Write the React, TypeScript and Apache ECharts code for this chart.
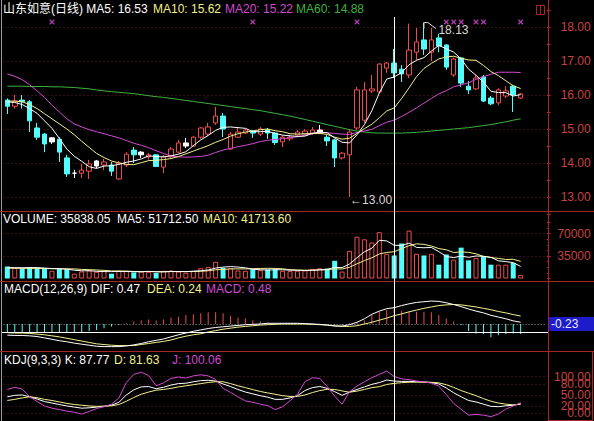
import React, { useEffect, useRef } from 'react';
import * as echarts from 'echarts';

// ---------- data ----------
const opens = [15.85, 15.67, 15.85, 15.80, 15.03, 14.85, 14.62, 14.70, 14.15, 13.70,
  13.70, 13.76, 13.91, 13.94, 13.94, 13.53, 13.94, 14.38, 14.24, 14.18,
  14.24, 13.88, 14.18, 14.32, 14.50, 14.50, 14.76, 14.85, 15.18, 15.38,
  14.41, 14.76, 14.88, 14.94, 14.85, 14.97, 14.88, 14.62, 14.71, 14.82,
  14.85, 14.88, 14.88, 14.76, 14.68, 14.15, 14.24, 15.03, 15.26, 16.12,
  16.09, 16.79, 16.94, 16.76, 16.59, 17.26, 17.62, 17.26, 17.68, 17.47,
  16.59, 17.09, 16.26, 16.18, 16.53, 15.91, 15.77, 15.97, 16.26, 15.91];
const closes = [15.67, 15.82, 15.80, 15.24, 14.76, 14.56, 14.74, 14.32, 13.68, 13.70,
  13.79, 13.97, 14.06, 14.03, 13.76, 14.00, 14.26, 14.24, 14.32, 14.24,
  13.90, 14.18, 14.41, 14.59, 14.59, 14.76, 15.03, 15.06, 15.38, 15.00,
  14.85, 14.91, 14.97, 14.88, 15.00, 14.88, 14.60, 14.76, 14.76, 14.91,
  14.94, 14.97, 14.97, 14.65, 14.15, 14.29, 14.91, 16.15, 16.15, 16.18,
  16.91, 16.94, 16.65, 16.62, 17.32, 17.56, 17.35, 17.62, 17.44, 16.82,
  17.06, 16.35, 16.15, 16.50, 15.82, 15.74, 16.15, 16.12, 16.00, 16.03];
const lows = [15.44, 15.60, 15.60, 14.91, 14.68, 14.32, 14.56, 14.03, 13.59, 13.56,
  13.56, 13.53, 13.85, 13.79, 13.62, 13.50, 13.88, 14.00, 14.15, 14.10,
  13.88, 13.70, 14.15, 14.29, 14.44, 14.47, 14.71, 14.79, 15.12, 14.76,
  14.38, 14.74, 14.85, 14.74, 14.79, 14.71, 14.53, 14.47, 14.65, 14.76,
  14.82, 14.82, 14.85, 14.50, 13.88, 14.10, 13.00, 14.97, 15.18, 16.06,
  16.06, 16.65, 16.50, 16.38, 16.50, 17.03, 17.18, 17.00, 17.26, 16.74,
  16.53, 16.24, 16.03, 16.15, 15.79, 15.70, 15.70, 15.91, 15.50, 15.88];
const highs = [15.90, 16.00, 16.00, 15.85, 15.18, 14.88, 14.76, 14.76, 14.24, 13.80,
  13.97, 14.09, 14.09, 14.12, 14.03, 14.06, 14.32, 14.47, 14.35, 14.30,
  14.26, 14.24, 14.47, 14.68, 14.74, 14.79, 15.06, 15.18, 15.65, 15.47,
  14.91, 15.06, 15.00, 14.97, 15.06, 15.03, 14.91, 14.82, 14.82, 14.97,
  15.00, 15.06, 15.12, 14.82, 14.71, 14.32, 15.00, 16.24, 16.38, 16.59,
  16.94, 16.97, 17.35, 16.88, 18.10, 17.97, 18.13, 17.97, 17.80, 17.50,
  17.10, 17.12, 16.41, 16.59, 16.59, 15.97, 16.20, 16.26, 16.30, 16.06];
const whiteCandles = [6, 9, 12, 18, 24, 42];

const ma5 = [15.80, 15.78, 15.72, 15.60, 15.46, 15.24, 15.02, 14.72, 14.41, 14.20,
  14.05, 13.89, 13.84, 13.91, 13.92, 13.96, 14.02, 14.06, 14.12, 14.21,
  14.19, 14.18, 14.21, 14.26, 14.33, 14.51, 14.68, 14.81, 14.96, 15.05,
  15.06, 15.04, 15.02, 14.92, 14.92, 14.93, 14.87, 14.82, 14.80, 14.78,
  14.79, 14.87, 14.91, 14.89, 14.74, 14.61, 14.59, 14.83, 15.13, 15.54,
  16.06, 16.47, 16.53, 16.66, 16.89, 17.02, 17.10, 17.29, 17.46, 17.36,
  17.26, 17.06, 16.76, 16.58, 16.38, 16.11, 16.07, 16.07, 15.97, 16.01];
const ma10 = [15.82, 15.82, 15.80, 15.72, 15.60, 15.45, 15.30, 15.15, 15.00, 14.83,
  14.64, 14.46, 14.28, 14.16, 14.06, 14.00, 13.96, 13.95, 14.01, 14.07,
  14.08, 14.10, 14.13, 14.19, 14.27, 14.35, 14.43, 14.51, 14.61, 14.69,
  14.79, 14.86, 14.91, 14.94, 14.98, 15.00, 14.95, 14.92, 14.86, 14.85,
  14.86, 14.87, 14.87, 14.84, 14.76, 14.70, 14.73, 14.87, 15.01, 15.14,
  15.33, 15.53, 15.62, 15.90, 16.21, 16.54, 16.78, 16.93, 17.06, 17.12,
  17.14, 17.08, 17.03, 17.02, 16.87, 16.69, 16.57, 16.42, 16.27, 16.19];
const ma20 = [16.62, 16.55, 16.45, 16.30, 16.12, 15.93, 15.70, 15.50, 15.30, 15.15,
  15.06, 14.98, 14.92, 14.86, 14.80, 14.74, 14.66, 14.58, 14.52, 14.45,
  14.36, 14.28, 14.21, 14.18, 14.17, 14.18, 14.19, 14.23, 14.31, 14.38,
  14.43, 14.48, 14.52, 14.57, 14.63, 14.67, 14.69, 14.72, 14.74, 14.77,
  14.82, 14.86, 14.89, 14.89, 14.87, 14.85, 14.84, 14.90, 14.94, 14.99,
  15.10, 15.20, 15.26, 15.37, 15.49, 15.62, 15.76, 15.90, 16.03, 16.13,
  16.24, 16.30, 16.36, 16.46, 16.54, 16.61, 16.67, 16.67, 16.67, 16.66];
const ma60 = [16.26, 16.26, 16.26, 16.25, 16.25, 16.25, 16.24, 16.24, 16.23, 16.22,
  16.20, 16.18, 16.15, 16.12, 16.10, 16.08, 16.06, 16.04, 16.01, 15.98,
  15.95, 15.93, 15.90, 15.87, 15.84, 15.81, 15.78, 15.75, 15.72, 15.69,
  15.66, 15.63, 15.60, 15.57, 15.54, 15.50, 15.46, 15.42, 15.38, 15.33,
  15.28, 15.23, 15.18, 15.13, 15.08, 15.03, 14.98, 14.94, 14.91, 14.89,
  14.88, 14.88, 14.88, 14.88, 14.89, 14.90, 14.92, 14.94, 14.96, 14.98,
  15.00, 15.02, 15.04, 15.07, 15.10, 15.13, 15.17, 15.21, 15.26, 15.30];

const volumes = [18800, 16500, 16000, 17500, 16000, 15500, 12000, 15000, 14500, 7500,
  11000, 12500, 10500, 12000, 7500, 12500, 12000, 9500, 11000, 10500,
  8500, 12000, 12500, 11000, 9000, 12000, 16000, 18000, 26000, 16500,
  16000, 12500, 12000, 14500, 13000, 14000, 14500, 12000, 11500, 12000,
  12500, 15000, 16000, 15500, 27500, 10800, 43000, 65000, 61000, 56000,
  72000, 38500, 35838.05, 54400, 74500, 38500, 35800, 38500, 21500, 37400,
  29400, 48000, 28300, 32100, 34700, 21500, 21500, 21500, 24200, 5600];
const volMa5 = [17000, 16800, 16700, 16900, 16960, 16300, 15400, 15200, 14600, 12900,
  12000, 12100, 11200, 10700, 10700, 11000, 10900, 10700, 10500, 11100,
  10300, 10300, 10900, 10900, 10600, 11300, 12100, 13200, 16200, 17700,
  18500, 17800, 16600, 14300, 13600, 13200, 13600, 13600, 13000, 12800,
  12500, 12600, 13400, 14200, 17300, 16960, 22560, 32360, 41460, 47160,
  59400, 58500, 51712.5, 51348, 55048, 48348, 47808, 48340, 41760, 34340,
  32520, 34960, 32920, 35040, 34500, 32920, 27620, 26260, 24680, 18860];
const volMa10 = [16000, 16000, 15900, 15800, 15700, 15500, 15300, 15200, 15000, 14930,
  14150, 13750, 13200, 12650, 11800, 11500, 11500, 10950, 10600, 10900,
  10650, 10600, 10800, 10700, 10850, 10800, 11200, 12050, 13550, 14150,
  14900, 14950, 14900, 15250, 15650, 15850, 15700, 15100, 13650, 13200,
  12850, 13100, 13500, 13600, 15050, 14730, 17580, 22880, 27830, 32230,
  38180, 40530, 41713.6, 46404, 51104, 53874, 53154, 50504, 46554, 44694,
  40434, 41384, 40630, 38400, 34420, 32720, 31290, 29590, 29860, 26680];

const dif = [-0.32, -0.33, -0.33, -0.34, -0.36, -0.40, -0.44, -0.48, -0.51, -0.55,
  -0.58, -0.61, -0.64, -0.65, -0.65, -0.65, -0.63, -0.60, -0.56, -0.51,
  -0.47, -0.43, -0.37, -0.31, -0.26, -0.21, -0.17, -0.13, -0.10, -0.08,
  -0.06, -0.04, -0.02, -0.01, 0.00, 0.02, 0.02, 0.02, 0.02, 0.02,
  0.01, 0.00, -0.01, -0.03, -0.06, -0.06, -0.02, 0.05, 0.15, 0.28,
  0.37, 0.44, 0.47, 0.53, 0.58, 0.62, 0.64, 0.66, 0.65, 0.61,
  0.56, 0.50, 0.43, 0.37, 0.32, 0.25, 0.20, 0.15, 0.09, 0.05];
const dea = [-0.25, -0.26, -0.26, -0.27, -0.29, -0.31, -0.34, -0.37, -0.41, -0.45,
  -0.49, -0.53, -0.57, -0.59, -0.61, -0.62, -0.62, -0.62, -0.59, -0.56,
  -0.53, -0.50, -0.46, -0.40, -0.35, -0.31, -0.28, -0.23, -0.19, -0.15,
  -0.12, -0.09, -0.07, -0.05, -0.03, -0.02, -0.01, 0.00, 0.00, 0.00,
  0.00, -0.01, -0.02, -0.03, -0.05, -0.07, -0.07, -0.05, 0.00, 0.05,
  0.11, 0.17, 0.24, 0.29, 0.35, 0.40, 0.45, 0.49, 0.53, 0.55,
  0.56, 0.55, 0.52, 0.49, 0.45, 0.41, 0.36, 0.32, 0.27, 0.23];
const macdHist = [-0.23, -0.23, -0.23, -0.23, -0.23, -0.23, -0.23, -0.23, -0.23, -0.23,
  -0.23, -0.20, -0.17, -0.12, -0.07, -0.03, 0.02, 0.07, 0.11, 0.13,
  0.10, 0.13, 0.19, 0.21, 0.26, 0.28, 0.31, 0.34, 0.34, 0.31,
  0.23, 0.19, 0.16, 0.11, 0.07, 0.04, 0.03, 0.02, 0.02, 0.01,
  0.01, 0.01, 0.00, -0.01, -0.02, -0.02, 0.02, 0.05, 0.10, 0.26,
  0.35, 0.40, 0.48, 0.38, 0.35, 0.35, 0.35, 0.34, 0.26, 0.16,
  0.07, -0.03, -0.20, -0.27, -0.29, -0.38, -0.32, -0.29, -0.27, -0.29];

const kLine = [45, 49, 50, 45, 39, 32, 28, 24, 20, 17,
  14, 15, 17, 19, 22, 30, 50, 64, 72, 73,
  67, 71, 77, 81, 82, 86, 89, 90, 88, 80,
  73, 65, 58, 53, 48, 44, 38, 38, 42, 48,
  62, 70, 73, 68, 59, 49, 58, 65, 72, 79,
  83.7, 90.7, 87.77, 87, 87, 86, 85.3, 83.7, 80, 69,
  56, 45, 35, 31, 25, 19, 18, 20.5, 22, 26];
const dLine = [35, 38, 42, 45, 42.5, 38, 35, 31, 27, 24,
  22, 20, 19, 19.5, 20.5, 24, 33, 43, 52, 58,
  63, 65, 68, 72, 75, 78, 81, 84, 86, 86,
  81, 75, 70, 64.5, 59.5, 55.5, 52, 48, 46, 46,
  50, 56.5, 62, 65.5, 65, 61, 57.5, 60.5, 65, 70,
  72.6, 78.6, 81.63, 83.5, 84.7, 85, 85, 84.6, 83, 78,
  70.5, 62, 55, 48, 40, 33, 28, 25, 23, 24.5];
const jLine = [65, 71, 66, 45, 32, 20, 14, 10, 6, 3,
  -2, 5, 13, 18, 25, 42, 84, 106, 112, 103,
  75, 83, 95, 99, 96, 102, 105, 102, 92, 68,
  57, 45, 34, 30, 25, 21, 10, 18, 34, 52,
  86, 97, 95, 73, 47, 25, 59, 74, 86, 97,
  106, 115, 100.06, 94, 91.6, 88, 86, 82, 74, 51,
  27, 11, -5, -3, -5, -9, -2, 11.5, 20, 29];

const mineIdx = [6, 33, 47, 59, 60, 61, 63, 64, 69];
const mineLevel = 18.15;
const priceLevels = [13, 14, 15, 16, 17, 18];
const volLevels = [35000, 70000];
const kdjLevels = [0, 20, 50, 80, 100];
const crossIdx = 52;
const crossMacd = -0.23;
const lowIdx = 46;
const lowVal = 13.0;
const highIdx = 56;
const highVal = 18.13;
const TOTAL_SLOTS = 73;
const days = Array.from({ length: TOTAL_SLOTS }, (_, i) => `D${i + 1}`);

const titleRows = [
  { y: 3, parts: [['山东如意(日线) MA5: 16.53', 3, 'w'], ['MA10: 15.62', 153, 'y'], ['MA20: 15.22', 225, 'm'], ['MA60: 14.88', 296, 'g']] },
  { y: 213, parts: [['VOLUME: 35838.05', 3, 'w'], ['MA5: 51712.50', 117, 'w'], ['MA10: 41713.60', 203, 'y']] },
  { y: 283, parts: [['MACD(12,26,9) DIF: 0.47', 4, 'w'], ['DEA: 0.24', 147, 'y'], ['MACD: 0.48', 206, 'm']] },
  { y: 354, parts: [['KDJ(9,3,3) K: 87.77', 4, 'w'], ['D: 81.63', 114, 'y'], ['J: 100.06', 172, 'm']] },
];

// ---------- styles ----------
const RED = '#ec4c4c';
const CYAN = '#54fcfc';
const WHITE = '#ffffff';
const YELLOW = '#f2f08e';
const MAGENTA = '#d24ad2';
const GREEN = '#3eb23e';
const AXIS_RED = '#a82626';
const LABEL_RED = '#c84242';
const GRID_RED = '#6e1e1e';
const FONT = '"Liberation Sans", Arial, "Noto Sans CJK SC", sans-serif';
const colorOf: Record<string, string> = { w: WHITE, y: YELLOW, m: MAGENTA, g: GREEN };
const X_PATH = 'path://M0,0L2,0L5,3L8,0L10,0L10,2L7,5L10,8L10,10L8,10L5,7L2,10L0,10L0,8L3,5L0,2Z';

const GL = 3.6;
const GW = 543.1;

function near(v: number, arr: number[]) {
  return arr.some((a) => Math.abs(a - v) < 1e-6);
}

function dottedLevels(levels: number[], color: string, dash: number[]) {
  return {
    silent: true,
    symbol: 'none',
    z: 1,
    label: { show: false },
    lineStyle: { color, type: dash, width: 1 },
    data: levels.map((v) => ({ yAxis: v })),
  };
}

function lineSeries(data: number[], color: string, gridIdx: number) {
  return {
    type: 'line',
    xAxisIndex: gridIdx,
    yAxisIndex: gridIdx,
    data,
    symbol: 'none',
    silent: true,
    lineStyle: { color, width: 1 },
    itemStyle: { color },
  };
}

function buildOption() {
  const isUp = (i: number) => closes[i] > opens[i] || whiteCandles.includes(i);
  const candleData = opens.map((o, i) => {
    const item: any = { value: [o, closes[i], lows[i], highs[i]] };
    if (whiteCandles.includes(i)) {
      item.itemStyle = { color: WHITE, color0: WHITE, borderColor: WHITE, borderColor0: WHITE, borderColorDoji: WHITE };
    }
    return item;
  });
  const axisLabelBase = { color: LABEL_RED, fontSize: 12, fontFamily: FONT, align: 'right', margin: 44 };
  const xAxes = [0, 1, 2, 3].map((g) => ({
    type: 'category',
    gridIndex: g,
    data: days,
    boundaryGap: true,
    show: false,
  }));
  return {
    animation: false,
    backgroundColor: '#000000',
    textStyle: { fontFamily: FONT },
    grid: [
      { left: GL, width: GW, top: 10, height: 204 },
      { left: GL, width: GW, top: 222.25, height: 56.25 },
      { left: GL, width: GW, top: 282.24, height: 69.6 },
      { left: GL, width: GW, top: 354.6, height: 66.06 },
    ],
    xAxis: xAxes,
    yAxis: [
      {
        type: 'value', gridIndex: 0, position: 'right', min: 12.5, max: 18.5, interval: 0.5,
        axisLine: { show: false },
        axisTick: { show: true, length: 4, lineStyle: { color: AXIS_RED } },
        axisLabel: { ...axisLabelBase, formatter: (v: number) => (near(v, priceLevels) ? v.toFixed(2) : '') },
        splitLine: { show: false },
      },
      {
        type: 'value', gridIndex: 1, position: 'right', min: 0, max: 87500, interval: 35000,
        axisLine: { show: false },
        axisTick: { show: true, length: 4, lineStyle: { color: AXIS_RED } },
        minorTick: { show: true, splitNumber: 4, length: 2, lineStyle: { color: AXIS_RED } },
        axisLabel: { ...axisLabelBase, formatter: (v: number) => (v === 0 ? '' : String(v)) },
        splitLine: { show: false },
      },
      {
        type: 'value', gridIndex: 2, position: 'right', min: -0.8, max: 1.2, interval: 0.4,
        axisLine: { show: false }, axisTick: { show: false }, axisLabel: { show: false }, splitLine: { show: false },
      },
      {
        type: 'value', gridIndex: 3, position: 'right', min: -20, max: 160, interval: 10,
        axisLine: { show: false }, axisTick: { show: false },
        axisLabel: { ...axisLabelBase, formatter: (v: number) => (near(v, kdjLevels) ? v.toFixed(2) : '') },
        splitLine: { show: false },
      },
    ],
    series: [
      {
        type: 'candlestick',
        xAxisIndex: 0,
        yAxisIndex: 0,
        data: candleData,
        barWidth: 5,
        itemStyle: { color: '#000000', color0: CYAN, borderColor: RED, borderColor0: CYAN, borderWidth: 1 },
        markLine: dottedLevels(priceLevels, GRID_RED, [1, 3]),
        markPoint: {
          symbol: 'circle',
          symbolSize: 1,
          itemStyle: { color: 'rgba(0,0,0,0)' },
          data: [
            {
              coord: [lowIdx, lowVal], value: lowVal,
              label: { show: true, position: 'right', distance: 0, offset: [0, 3], formatter: '←13.00', color: '#d8d8d8', fontSize: 12, fontFamily: FONT },
            },
            {
              coord: [highIdx, highVal], value: highVal,
              label: { show: true, position: 'right', distance: 0, offset: [14, 7], formatter: '18.13', color: '#d8d8d8', fontSize: 12, fontFamily: FONT },
            },
          ],
        },
      },
      lineSeries(ma60, GREEN, 0),
      lineSeries(ma20, MAGENTA, 0),
      lineSeries(ma10, YELLOW, 0),
      lineSeries(ma5, WHITE, 0),
      {
        type: 'scatter',
        xAxisIndex: 0,
        yAxisIndex: 0,
        data: mineIdx.map((i) => [i, mineLevel]),
        symbol: X_PATH,
        symbolSize: 5,
        silent: true,
        itemStyle: { color: MAGENTA },
      },
      {
        type: 'bar',
        xAxisIndex: 1,
        yAxisIndex: 1,
        barWidth: 5,
        silent: true,
        data: volumes.map((v, i) => ({
          value: v,
          itemStyle: isUp(i) ? { color: '#000000', borderColor: RED, borderWidth: 1 } : { color: CYAN },
        })),
        markLine: dottedLevels(volLevels, GRID_RED, [1, 3]),
      },
      lineSeries(volMa10, YELLOW, 1),
      lineSeries(volMa5, WHITE, 1),
      {
        type: 'bar',
        xAxisIndex: 2,
        yAxisIndex: 2,
        barWidth: 1,
        silent: true,
        data: macdHist.map((v) => ({ value: v, itemStyle: { color: v >= 0 ? RED : CYAN } })),
        markLine: dottedLevels([0], '#9a9a9a', [1, 2]),
      },
      lineSeries(dea, YELLOW, 2),
      lineSeries(dif, WHITE, 2),
      {
        ...lineSeries(kLine, WHITE, 3),
        markLine: dottedLevels(kdjLevels, GRID_RED, [1, 3]),
      },
      lineSeries(dLine, YELLOW, 3),
      lineSeries(jLine, MAGENTA, 3),
    ],
  };
}

function seg(x1: number, y1: number, x2: number, y2: number, stroke: string, z = 50) {
  return { type: 'line', silent: true, z, shape: { x1, y1, x2, y2 }, style: { stroke, lineWidth: 1 } };
}

function buildGraphics(crossX: number, crossY: number, hi: number[]) {
  const g: any[] = [];
  g.push(seg(1.5, 0, 1.5, 421, '#9c9c9c'));
  g.push(seg(548.5, 0, 548.5, 421, AXIS_RED));
  [211.5, 281.5, 351.5].forEach((y) => g.push(seg(0, y, 594, y, AXIS_RED)));
  g.push({ type: 'rect', silent: true, z: 50, shape: { x: 548.5, y: 351.5, width: 44, height: 69 }, style: { fill: 'none', stroke: AXIS_RED, lineWidth: 1 } });
  g.push({ type: 'rect', silent: true, z: 50, shape: { x: 536.5, y: 5.5, width: 8, height: 9 }, style: { fill: 'none', stroke: AXIS_RED, lineWidth: 1 } });
  g.push(seg(540.5, 5.5, 540.5, 14.5, AXIS_RED));
  // crosshair
  const cx = Math.round(crossX) + 0.5;
  const cy = Math.round(crossY) + 0.5;
  g.push(seg(cx, 17, cx, 421, WHITE, 60));
  g.push(seg(2, cy, 548, cy, WHITE, 60));
  g.push({ type: 'rect', silent: true, z: 61, shape: { x: 549, y: cy - 15.5, width: 45, height: 14 }, style: { fill: '#1c1cc8' } });
  g.push({ type: 'text', silent: true, z: 62, x: 551, y: cy - 8.5, style: { text: String(crossMacd), fill: '#e8e8ff', font: `12px ${FONT}`, verticalAlign: 'middle', align: 'left' } });
  // pointer to the high
  g.push({
    type: 'polyline', silent: true, z: 60,
    shape: { points: [[hi[0], hi[1] + 6], [hi[0], hi[1]], [hi[0] + 4, hi[1]], [hi[0] + 12, hi[1] + 6]] },
    style: { stroke: '#d8d8d8', lineWidth: 1, fill: 'none' },
  });
  // titles
  titleRows.forEach((row) => {
    row.parts.forEach((p) => {
      g.push({
        type: 'text', silent: true, z: 70, x: p[1] as number, y: row.y,
        style: { text: p[0] as string, fill: colorOf[p[2] as string], font: `12px ${FONT}`, verticalAlign: 'top', align: 'left' },
      });
    });
  });
  return g;
}

export default function App() {
  const ref = useRef<HTMLDivElement>(null);
  useEffect(() => {
    const el = ref.current;
    if (!el) return;
    const chart = echarts.init(el, null, { renderer: 'svg' });
    chart.setOption(buildOption() as any);
    const crossX = chart.convertToPixel({ xAxisIndex: 0 } as any, crossIdx) as unknown as number;
    const crossY = chart.convertToPixel({ yAxisIndex: 2 } as any, crossMacd) as unknown as number;
    const hi = chart.convertToPixel({ gridIndex: 0 } as any, [highIdx, highVal]) as unknown as number[];
    chart.setOption({ graphic: buildGraphics(crossX, crossY, hi) } as any);
    return () => chart.dispose();
  }, []);
  return (
    <div
      ref={ref}
      style={{ position: 'fixed', left: 0, top: 0, width: 594, height: 421, background: '#000' }}
    />
  );
}
